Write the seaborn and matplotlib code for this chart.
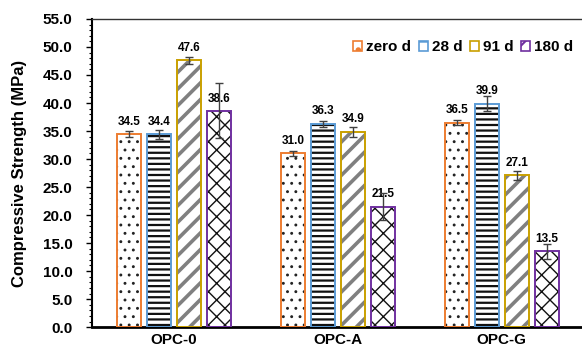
import pandas as pd
import matplotlib
matplotlib.use("Agg")
import matplotlib.pyplot as plt
from matplotlib.patches import Patch, Rectangle
from matplotlib.ticker import MultipleLocator, FormatStrFormatter
import seaborn as sns

sns.set_theme(style="ticks")
plt.rcParams['font.family'] = ['Liberation Sans', 'DejaVu Sans']
plt.rcParams['font.weight'] = 'bold'
plt.rcParams['hatch.linewidth'] = 1.5
for key in ['text.color', 'axes.labelcolor', 'xtick.color', 'ytick.color', 'axes.edgecolor']:
    plt.rcParams[key] = 'black'

# data
groups = ['OPC-0', 'OPC-A', 'OPC-G']
ages = ['zero d', '28 d', '91 d', '180 d']
zero_d = [34.5, 31.0, 36.5]
d28 = [34.4, 36.3, 39.9]
d91 = [47.6, 34.9, 27.1]
d180 = [38.6, 21.5, 13.5]
zero_err = [0.5, 0.4, 0.4]
d28_err = [0.8, 0.5, 1.4]
d91_err = [0.6, 0.9, 0.8]
d180_err = [4.9, 2.4, 1.3]

values = [zero_d, d28, d91, d180]
errs = [zero_err, d28_err, d91_err, d180_err]
df = pd.DataFrame({
    'group': groups * 4,
    'age': [a for a in ages for _ in groups],
    'strength': [v for s in values for v in s],
})

edge_colors = ['#ED7D31', '#5B9BD5', '#C9A000', '#7030A0']
hatch_colors = ['#222222', '#111111', '#808080', '#111111']
hatches = ['..', '---', '//', 'xx']
hatch_lws = [0.9, 1.6, 2.6, 1.0]

fig = plt.figure(figsize=(5.82, 3.51))
ax = fig.add_axes([0.158, 0.068, 0.842, 0.878])
sns.barplot(data=df, x='group', y='strength', hue='age', hue_order=ages,
            errorbar=None, width=0.73, gap=0.2, ax=ax, legend=False)

bar_conts = list(ax.containers)
for i, cont in enumerate(bar_conts):
    for p, e in zip(cont.patches, errs[i]):
        p.set_facecolor('white')
        p.set_edgecolor(hatch_colors[i])
        p.set_linewidth(0)
        p.set_hatch(hatches[i])
        if hasattr(p, 'set_hatch_linewidth'):
            p.set_hatch_linewidth(hatch_lws[i])
        ax.add_patch(Rectangle(p.get_xy(), p.get_width(), p.get_height(),
                               fill=False, edgecolor=edge_colors[i], lw=1.4, zorder=3))
        ax.errorbar(p.get_x() + p.get_width() / 2, p.get_height(), yerr=e,
                    fmt='none', ecolor='#404040', elinewidth=1, capsize=3, zorder=4)
    ax.bar_label(cont, fmt='%.1f', padding=4.5, fontsize=8.5, fontweight='bold')

ax.set_ylim(0, 55)
ax.set_xlim(-0.5, 2.49)
ax.yaxis.set_major_locator(MultipleLocator(5))
ax.yaxis.set_minor_locator(MultipleLocator(1))
ax.yaxis.set_major_formatter(FormatStrFormatter('%.1f'))
ax.tick_params(axis='y', which='major', length=4, width=1, labelsize=11, pad=10)
ax.tick_params(axis='y', which='minor', length=2.5, width=0.8)
ax.tick_params(axis='x', length=0, labelsize=11, pad=4)
for lab in ax.get_xticklabels() + ax.get_yticklabels():
    lab.set_fontweight('bold')
ax.set_xlabel('')
ax.set_ylabel('Compressive Strength (MPa)', fontsize=12, fontweight='bold', labelpad=11)

ax.spines['right'].set_visible(False)
ax.spines['left'].set_linewidth(1.5)
ax.spines['bottom'].set_linewidth(2)
ax.spines['top'].set_linewidth(1)
ax.spines['top'].set_color('#333333')

handles = [Patch(facecolor='white', edgecolor=edge_colors[i], hatch=hatches[i][0], lw=1.2)
           for i in range(4)]
ax.legend(handles, ages, loc='upper right', bbox_to_anchor=(0.995, 0.95), ncol=4, frameon=False,
          borderaxespad=0, handlelength=0.6, handleheight=0.6, handletextpad=0.25,
          columnspacing=0.5, prop={'size': 11, 'weight': 'bold'})

fig.savefig('out.png', dpi=100)
